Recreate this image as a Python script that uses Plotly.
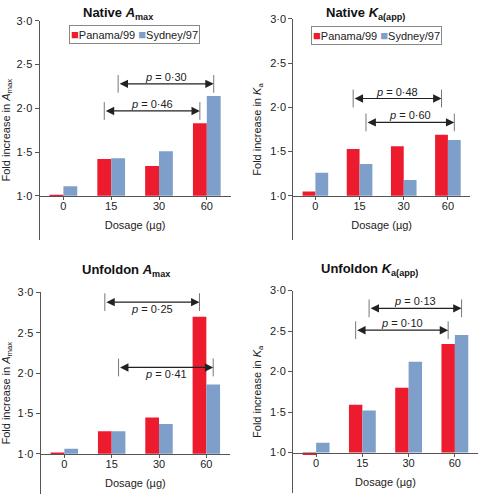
import plotly.graph_objects as go

# ---------------- data ----------------
dosages = ["0", "15", "30", "60"]
series_names = ["Panama/99", "Sydney/97"]

native_amax_panama = [1.01, 1.42, 1.34, 1.83]
native_amax_sydney = [1.11, 1.43, 1.51, 2.14]
native_ka_panama = [1.05, 1.53, 1.56, 1.69]
native_ka_sydney = [1.26, 1.36, 1.18, 1.63]
unfold_amax_panama = [1.01, 1.28, 1.45, 2.70]
unfold_amax_sydney = [1.06, 1.28, 1.37, 1.86]
unfold_ka_panama = [0.97, 1.59, 1.80, 2.34]
unfold_ka_sydney = [1.12, 1.52, 2.12, 2.45]

y_tick_vals = [1.0, 1.5, 2.0, 2.5, 3.0]
y_tick_text = ["1·0", "1·5", "2·0", "2·5", "3·0"]

# comparisons: (series index, from dosage idx, to dosage idx, level, label)
native_amax_cmp = [(1, 1, 3, 2.28, "0·30"), (0, 1, 3, 1.97, "0·46")]
native_ka_cmp = [(0, 1, 3, 2.10, "0·48"), (1, 1, 3, 1.83, "0·60")]
unfold_amax_cmp = [(0, 1, 3, 2.88, "0·25"), (1, 1, 3, 2.07, "0·41")]
unfold_ka_cmp = [(1, 1, 3, 2.78, "0·13"), (0, 1, 3, 2.51, "0·10")]

titles = [
    "<b>Native <i>A</i><sub>max</sub></b>",
    "<b>Native <i>K</i><sub>a(app)</sub></b>",
    "<b>Unfoldon <i>A</i><sub>max</sub></b>",
    "<b>Unfoldon <i>K</i><sub>a(app)</sub></b>",
]
ytitles = [
    "Fold increase in <i>A</i><sub>max</sub>",
    "Fold increase in <i>K</i><sub>a</sub>",
    "Fold increase in <i>A</i><sub>max</sub>",
    "Fold increase in <i>K</i><sub>a</sub>",
]

# ---------------- style ----------------
W, H = 480, 495
RED = "#EC1B2E"
BLUE = "#7F9FCB"
FONT = "Liberation Sans, Arial, sans-serif"
TXT = "#222222"
AX = "#555555"
BARGAP = 0.42
YMIN, YMAX = 0.5, 3.0

# panel boxes in pixels: x0, x1, y(3.0), y(0.5)
boxes = [
    (39.5, 230.7, 15.0, 236.5),
    (293.3, 470.0, 13.0, 237.0),
    (40.7, 230.0, 290.0, 494.0),
    (293.0, 478.0, 288.0, 493.0),
]
title_pos = [(118, 8), (365, 8), (126, 268), (369, 267)]
legend_pos = [(134.5, 29), (376, 29.5)]
text_side = [1, 1, -1, 1]  # p-label above (+1) or below (-1)

panels = [
    (native_amax_panama, native_amax_sydney, native_amax_cmp),
    (native_ka_panama, native_ka_sydney, native_ka_cmp),
    (unfold_amax_panama, unfold_amax_sydney, unfold_amax_cmp),
    (unfold_ka_panama, unfold_ka_sydney, unfold_ka_cmp),
]

fig = go.Figure()
layout = dict(
    width=W, height=H,
    margin=dict(l=0, r=0, t=0, b=0),
    paper_bgcolor="white", plot_bgcolor="white",
    barmode="group", bargap=BARGAP, bargroupgap=0,
    showlegend=False,
    font=dict(family=FONT, size=11, color=TXT),
)
annotations = []
shapes = []

xs = list(range(len(dosages)))
half = (1 - BARGAP) / 4.0  # offset of each bar's centre from the group centre

for i, (pan, syd, cmps) in enumerate(panels):
    n = "" if i == 0 else str(i + 1)
    xa, ya = "x" + n, "y" + n
    x0, x1, ytop, ybot = boxes[i]
    ydom = [1 - ybot / H, 1 - ytop / H]
    xpos = ydom[0] + (1.0 - YMIN) / (YMAX - YMIN) * (ydom[1] - ydom[0])

    for vals, name, col in ((pan, series_names[0], RED), (syd, series_names[1], BLUE)):
        fig.add_trace(go.Bar(
            x=xs, y=[v - 1.0 for v in vals], base=1.0, name=name,
            marker=dict(color=col, line=dict(width=0)),
            xaxis=xa, yaxis=ya,
        ))

    layout["xaxis" + n] = dict(
        domain=[x0 / W, x1 / W], anchor="free", position=xpos,
        range=[-0.5, len(dosages) - 0.5],
        tickmode="array", tickvals=xs, ticktext=dosages,
        ticks="outside", ticklen=3, tickcolor=AX, tickwidth=1,
        ticklabelstandoff=-3,
        showline=True, linecolor=AX, linewidth=1,
        showgrid=False, zeroline=False,
        tickfont=dict(size=11, color=TXT),
        title=dict(text="Dosage (µg)", font=dict(size=11, color=TXT), standoff=10),
    )
    layout["yaxis" + n] = dict(
        domain=ydom, anchor=xa, range=[YMIN, YMAX],
        tickmode="array", tickvals=y_tick_vals, ticktext=y_tick_text,
        ticks="outside", ticklen=4, tickcolor=AX, tickwidth=1,
        showline=True, linecolor=AX, linewidth=1,
        showgrid=False, zeroline=False,
        tickfont=dict(size=11, color=TXT),
        title=dict(text=ytitles[i], font=dict(size=11, color=TXT), standoff=6),
    )

    # title
    tx, ty = title_pos[i]
    annotations.append(dict(
        text=titles[i], x=tx / W, y=1 - ty / H, xref="paper", yref="paper",
        xanchor="center", yanchor="middle", showarrow=False,
        font=dict(size=13, color="#111111"),
    ))

    # comparison arrows
    dy = 9.0 / (ybot - ytop) * (YMAX - YMIN)
    for (s, a, b, lvl, lab) in cmps:
        off = -half if s == 0 else half
        xa0, xb0 = a + off, b + off
        annotations.append(dict(
            x=xb0, y=lvl, ax=xa0, ay=lvl, xref=xa, yref=ya, axref=xa, ayref=ya,
            showarrow=True, arrowhead=2, arrowsize=1.4, arrowwidth=1.2,
            arrowside="end+start", arrowcolor="#222222", text="",
        ))
        for xe in (xa0, xb0):
            shapes.append(dict(
                type="line", xref=xa, yref=ya, x0=xe, x1=xe, y0=lvl - dy, y1=lvl + dy,
                line=dict(color="#777777", width=1),
            ))
        annotations.append(dict(
            text="<i>p</i> = " + lab, x=(xa0 + xb0) / 2, y=lvl, xref=xa, yref=ya,
            showarrow=False, yshift=7 * text_side[i], xanchor="center", yanchor="middle",
            font=dict(size=11, color=TXT),
        ))

# legends (top panels)
for (lx, ly) in legend_pos:
    annotations.append(dict(
        text=("<span style='color:%s;font-size:13px'>■</span>%s "
              "<span style='color:%s;font-size:13px'>■</span>%s")
        % (RED, series_names[0], BLUE, series_names[1]),
        x=lx / W, y=1 - ly / H, xref="paper", yref="paper",
        xanchor="center", yanchor="middle", showarrow=False,
        bordercolor="#888888", borderwidth=1, borderpad=1, bgcolor="white",
        font=dict(size=11, color=TXT),
    ))

layout["annotations"] = annotations
layout["shapes"] = shapes
fig.update_layout(**layout)
fig.write_html("out.html", config={"displayModeBar": False},
               post_script="document.body.style.margin='0px';")
